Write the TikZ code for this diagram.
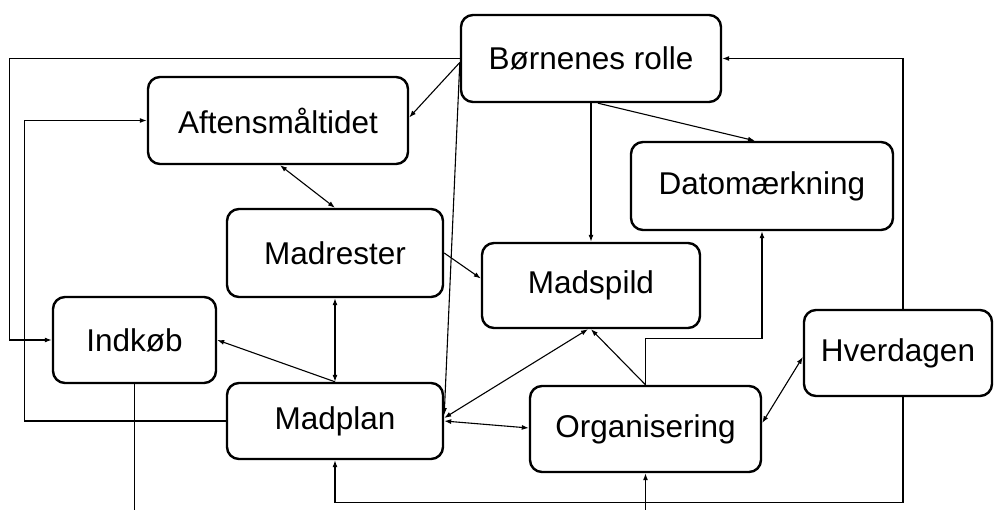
\documentclass[tikz,border=0pt]{standalone}
\usepackage{fontspec}
\setmainfont{Liberation Sans}
\usetikzlibrary{calc,arrows.meta}
\tikzset{
	boks/.style={draw, line width=2.4pt, rounded corners=12pt, align=center,
		font=\fontsize{31.5}{36}\selectfont},
	pil/.style={line width=1.1pt, -{Latex[length=7pt,width=5pt]}},
	dobbelpil/.style={line width=1.1pt, {Latex[length=7pt,width=5pt]}-{Latex[length=7pt,width=5pt]}},
	linje/.style={line width=1.1pt}
}

\begin{document}
\begin{tikzpicture}[x=1pt, y=-1pt]
		%%%%% START %%%%%
		
		\useasboundingbox (0, 0) rectangle (996, 510);
		
		\node[boks, minimum width=260pt, minimum height=87pt] (born) at (591, 58.5) {Børnenes rolle};
		\node[boks, minimum width=260pt, minimum height=87pt] (aften) at (278, 120.5) {Aftensmåltidet};
		\node[boks, minimum width=262pt, minimum height=88pt] (dato) at (762, 186) {Datomærkning};
		\node[boks, minimum width=216pt, minimum height=88pt] (madrest) at (335, 253) {Madrester};
		\node[boks, minimum width=218pt, minimum height=85pt] (madspild) at (591, 285.5) {Madspild};
		\node[boks, minimum width=163pt, minimum height=86pt] (indkob) at (134.5, 340) {Indkøb};
		\node[boks, minimum width=216pt, minimum height=76pt] (madplan) at (335, 421) {Madplan};
		\node[boks, minimum width=231pt, minimum height=86pt] (organ) at (645.5, 429) {Organisering};
		\node[boks, minimum width=188pt, minimum height=86pt] (hverd) at (898, 353) {Hverdagen};
		
		\coordinate (indkobud) at ($(indkob.south)+(0, 127)$);
		\coordinate (organind) at ($(organ.south)+(0, 38)$);
		
		\draw[pil] (born.west) -- ++(-450, 0) |- (indkob.west);
		\draw[pil] ($(born.west)+(0, 4)$) -- ($(aften.east)+(0, -3)$);
		\draw[pil] ($(born.west)+(0, 4)$) -- ($(madplan.east)+(0, -6)$);
		\draw[pil] (born.south) -- (madspild.north);
		\draw[pil] ($(born.south)+(7, 0)$) -- ($(dato.north)+(-7, 0)$);
		\draw[pil] ($(hverd.north)+(5, 0)$) |- (born.east);
		
		\draw[dobbelpil] ($(aften.south)+(2, 0)$) -- (madrest.north);
		\draw[dobbelpil] (madrest.south) -- (madplan.north);
		\draw[pil] (madplan.north) -- (indkob.east);
		\draw[pil] (madplan.west) -- ++(-201, 0) |- (aften.west);
		\draw[pil] (madrest.east) -- ($(madspild.west)+(0, -7)$);
		
		\draw[dobbelpil] ($(madplan.east)+(0, -3)$) -- ($(madspild.south)+(-3, 0)$);
		\draw[dobbelpil] (madplan.east) -- ($(organ.west)+(0, -1)$);
		\draw[pil] (organ.north) -- (madspild.south);
		\draw[pil] (organ.north) -- ++(0, -46) -| (dato.south);
		\draw[dobbelpil] ($(organ.east)+(0, -6)$) -- ($(hverd.west)+(0, 4)$);
		\draw[pil] ($(hverd.south)+(5, 0)$) -- ++(0, 105) -| (madplan.south);
		
		\draw[linje] (indkob.south) -- (indkobud);
		\draw[pil] (organind) -- (organ.south);
		
		%%%%% END %%%%%
\end{tikzpicture}
\end{document}
